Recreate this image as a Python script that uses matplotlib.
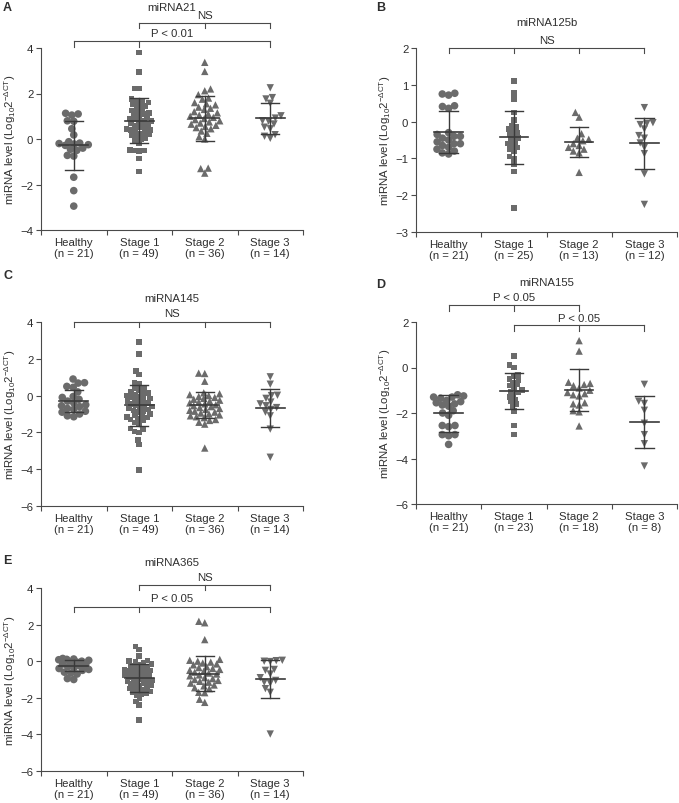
import numpy as np
import matplotlib
matplotlib.use("Agg")
import matplotlib.pyplot as plt
from matplotlib import transforms

# ── Data ─────────────────────────────────────────────────────────────────────
groups = ["Healthy", "Stage 1", "Stage 2", "Stage 3"]

# A. miRNA21
mir21_n = [21, 49, 36, 14]
mir21_healthy = [1.13, 1.05, 1.10, 0.80, 0.78, 0.45, 0.18, -0.12, -0.18, -0.20, -0.22,
                 -0.25, -0.28, -0.40, -0.45, -0.50, -0.72, -0.75, -1.68, -2.27, -2.95]
mir21_stage1 = [3.80, 2.95, 2.22, 2.22,
                1.75, 1.70, 1.65, 1.60, 1.55, 1.50, 1.45, 1.40, 1.30, 1.25, 1.20, 1.15, 1.10,
                1.05, 1.00, 0.95, 0.90, 0.85, 0.80, 0.80, 0.75, 0.70, 0.65, 0.60, 0.55, 0.50,
                0.45, 0.40, 0.40, 0.35, 0.30, 0.25, 0.20, 0.15, 0.10, 0.05, 0.00, -0.10, -0.20,
                -0.50, -0.50, -0.52, -0.48, -0.85, -1.42]
mir21_stage2 = [3.37, 2.97, 2.20, 2.12, 1.95,
                1.80, 1.75, 1.60, 1.55, 1.50, 1.40, 1.35, 1.30, 1.20, 1.15, 1.10, 1.05, 1.00,
                0.95, 0.90, 0.85, 0.80, 0.75, 0.70, 0.65, 0.60, 0.55, 0.50, 0.45, 0.35, 0.25,
                0.10, 0.00, -1.28, -1.50, -1.30]
mir21_stage3 = [2.25, 1.82, 1.76, 1.57, 1.02, 0.92, 0.80, 0.78, 0.66, 0.52, 0.45, 0.19,
                0.12, 0.03]
mir21_mean = [-0.27, 0.79, 0.92, 0.92]
mir21_sd_hi = [0.78, 1.79, 1.91, 1.57]
mir21_sd_lo = [-1.36, -0.19, -0.07, 0.23]

# B. miRNA125b
mir125b_n = [21, 25, 13, 12]
mir125b_healthy = [0.75, 0.72, 0.77, 0.43, 0.36, 0.41, -0.30, -0.35, -0.40, -0.40, -0.45,
                   -0.50, -0.55, -0.60, -0.60, -0.65, -0.70, -0.75, -0.80, -0.85, -0.88]
mir125b_stage1 = [1.10, 0.78, 0.62, 0.25, 0.05, -0.10, -0.15, -0.20, -0.25, -0.30, -0.35,
                  -0.40, -0.45, -0.50, -0.55, -0.60, -0.65, -0.70, -0.75, -0.80, -0.95,
                  -1.00, -1.15, -1.35, -2.35]
mir125b_stage2 = [0.25, 0.12, -0.33, -0.45, -0.48, -0.52, -0.60, -0.65, -0.70, -0.75,
                  -0.80, -0.85, -1.38]
mir125b_stage3 = [0.38, -0.03, -0.08, -0.05, -0.20, -0.38, -0.45, -0.58, -0.70, -0.87,
                  -1.42, -2.25]
mir125b_mean = [-0.28, -0.42, -0.55, -0.59]
mir125b_sd_hi = [0.29, 0.29, -0.14, 0.11]
mir125b_sd_lo = [-0.86, -1.14, -0.96, -1.29]

# C. miRNA145
mir145_n = [21, 49, 36, 14]
mir145_healthy = [0.90, 0.70, 0.68, 0.50, 0.45, 0.20, -0.05, -0.10, -0.20, -0.30, -0.40,
                  -0.50, -0.55, -0.60, -0.70, -0.75, -0.85, -0.90, -1.00, -1.10, -1.15]
mir145_stage1 = [2.90, 2.25, 1.35, 1.15, 0.70, 0.62,
                 0.40, 0.35, 0.30, 0.20, 0.15, 0.10, 0.05, 0.00, -0.05, -0.10, -0.15, -0.20,
                 -0.25, -0.30, -0.35, -0.40, -0.45, -0.50, -0.55, -0.60, -0.65, -0.70, -0.75,
                 -0.80, -0.85, -0.90, -1.00, -1.05, -1.10, -1.15, -1.20, -1.25, -1.30, -1.35,
                 -1.45, -1.50,
                 -1.80, -1.85, -2.00, -1.95, -2.40, -2.65, -4.05]
mir145_stage2 = [1.22, 1.20, 0.78,
                 0.15, 0.10, 0.05, 0.00, -0.05, -0.10, -0.15, -0.20, -0.25, -0.30, -0.35,
                 -0.40, -0.45, -0.50, -0.55, -0.60, -0.65, -0.70, -0.75, -0.80, -0.85, -0.90,
                 -0.95, -1.00, -1.05, -1.10, -1.15, -1.20, -1.30, -1.35, -1.45, -1.55,
                 -2.85]
mir145_stage3 = [1.02, 0.62, 0.02, 0.00, -0.15, -0.35, -0.45, -0.55, -0.65, -0.75, -0.90,
                 -1.10, -1.82, -3.35]
mir145_mean = [-0.27, -0.51, -0.51, -0.67]
mir145_sd_hi = [0.31, 0.60, 0.20, 0.36]
mir145_sd_lo = [-0.87, -1.67, -1.22, -1.73]

# D. miRNA155
mir155_n = [21, 23, 18, 8]
mir155_healthy = [-1.20, -1.25, -1.30, -1.30, -1.35, -1.45, -1.50, -1.55, -1.60, -1.65,
                  -1.70, -1.90, -2.00, -2.10, -2.55, -2.60, -2.55, -2.95, -3.00, -2.95, -3.38]
mir155_stage1 = [0.50, 0.10, 0.00, -0.30, -0.40, -0.50, -0.55, -0.65, -0.75, -0.80, -0.90,
                 -1.00, -1.05, -1.10, -1.20, -1.30, -1.40, -1.50, -1.60, -1.70, -1.90,
                 -2.55, -2.95]
mir155_stage2 = [1.18, 0.72, -0.65, -0.70, -0.75, -0.80, -0.90, -1.00, -1.10, -1.15, -1.20,
                 -1.25, -1.55, -1.60, -1.65, -1.90, -1.95, -2.57]
mir155_stage3 = [-0.74, -1.58, -1.48, -1.88, -2.45, -2.95, -3.35, -4.33]
mir155_mean = [-2.00, -1.03, -0.99, -2.41]
mir155_sd_hi = [-1.19, -0.24, -0.07, -1.25]
mir155_sd_lo = [-2.83, -1.81, -1.93, -3.54]

# E. miRNA365
mir365_n = [21, 49, 36, 14]
mir365_healthy = [0.15, 0.12, 0.10, 0.08, 0.05, 0.00, -0.05, -0.10, -0.15, -0.20, -0.25,
                  -0.30, -0.35, -0.40, -0.45, -0.50, -0.60, -0.65, -0.70, -0.95, -1.00]
mir365_stage1 = [0.80, 0.65, 0.28,
                 0.05, 0.00, -0.05, -0.10, -0.15, -0.20, -0.25, -0.30, -0.35, -0.40, -0.45,
                 -0.50, -0.50, -0.55, -0.60, -0.65, -0.70, -0.75, -0.80, -0.80, -0.85, -0.90,
                 -0.95, -1.00, -1.05, -1.10, -1.10, -1.15, -1.20, -1.25, -1.30, -1.35, -1.40,
                 -1.45, -1.50, -1.55, -1.60, -1.65, -1.70, -1.75, -1.80, -1.85,
                 -2.05, -2.20, -2.38, -3.20]
mir365_stage2 = [2.18, 2.10, 1.18,
                 0.10, 0.05, 0.00, -0.05, -0.10, -0.15, -0.20, -0.30, -0.35, -0.40, -0.45,
                 -0.50, -0.55, -0.60, -0.65, -0.70, -0.75, -0.80, -0.90, -0.95, -1.00, -1.05,
                 -1.10, -1.15, -1.20, -1.30, -1.35, -1.45, -1.50,
                 -1.70, -1.72, -2.08, -2.25]
mir365_stage3 = [0.05, 0.03, 0.00, -0.02, -0.45, -0.50, -0.70, -0.90, -1.05, -1.15, -1.20,
                 -1.50, -1.70, -3.98]
mir365_mean = [-0.26, -0.93, -0.69, -0.99]
mir365_sd_hi = [0.04, -0.18, 0.26, 0.04]
mir365_sd_lo = [-0.56, -1.66, -1.64, -2.00]

# ── Style ─────────────────────────────────────────────────────────────────────
DOT = "#6b6b6b"
LINE = "#3a3a3a"
AXC = "#4a4a4a"
TXT = "#2e2e2e"
FS = 8.2

plt.rcParams.update({
    "font.family": "Liberation Sans",
    "font.size": FS,
    "mathtext.fontset": "custom",
    "mathtext.rm": "Liberation Sans",
    "mathtext.it": "Liberation Sans:italic",
    "axes.unicode_minus": True,
})

MARKERS = ["o", "s", "^", "v"]
SIZES = [30, 16, 28, 28]
DIAM = [7.0, 5.2, 6.6, 6.6]   # px, used for swarm spacing
CAP = 15.0                    # px, max half-width of a swarm (points overlap beyond)

W, H = 679, 804
fig = plt.figure(figsize=(W / 100, H / 100), dpi=100)


def px_axes(l, t, r, b):
    return fig.add_axes([l / W, 1 - b / H, (r - l) / W, (b - t) / H])


def swarm(ypx, d, cap):
    # beeswarm limited to +-cap px; when full, take the least crowded slot
    order = np.argsort(ypx)
    xs = np.zeros(len(ypx))
    placed = []
    grid = np.linspace(-cap, cap, 31)
    for i in order:
        y = ypx[i]
        cands = [0.0]
        for px, py in placed:
            dy = abs(py - y)
            if dy < d:
                dx = np.sqrt(d * d - dy * dy)
                cands += [px - dx, px + dx]
        cands = [c for c in cands if abs(c) <= cap]
        cands.sort(key=abs)
        found = False
        for c in cands:
            if all((c - px) ** 2 + (y - py) ** 2 >= d * d - 1e-6 for px, py in placed):
                xs[i] = c
                found = True
                break
        if not found:
            P = np.array(placed)
            dmin = [np.min((g - P[:, 0]) ** 2 + (y - P[:, 1]) ** 2) for g in grid]
            xs[i] = grid[int(np.argmax(dmin))]
        placed.append((xs[i], y))
    return xs


def blend(ax):
    return transforms.blended_transform_factory(ax.transData, ax.transAxes)


def panel(ax, data, n, mean, hi, lo, ylim, yticks, title, title_y, label, label_xy):
    ax.set_xlim(-0.5, 3.5)
    ax.set_ylim(*ylim)
    for s in ["top", "right"]:
        ax.spines[s].set_visible(False)
    for s in ["left", "bottom"]:
        ax.spines[s].set_color(AXC)
        ax.spines[s].set_linewidth(0.8)
    ax.set_yticks(yticks)
    ax.set_yticklabels([f"{t:g}".replace("-", "\u2212") for t in yticks])
    ax.set_xticks([-0.5, 0.5, 1.5, 2.5, 3.5])
    ax.set_xticklabels([])
    ax.set_xticks(range(4), minor=True)
    ax.set_xticklabels([f"{g}\n(n = {k})" for g, k in zip(groups, n)], minor=True)
    ax.tick_params(axis="both", which="major", direction="out", length=3.5, width=0.8,
                   color=AXC, labelcolor=TXT, labelsize=FS, pad=2)
    ax.tick_params(axis="x", which="minor", length=0, labelcolor=TXT, labelsize=FS, pad=5)
    for lab in ax.get_xticklabels(minor=True):
        lab.set_linespacing(1.1)
    ax.set_ylabel(r"miRNA level (Log$_{10}$2$^{-\Delta\mathrm{CT}}$)", color=TXT,
                  fontsize=FS, labelpad=2)

    for i, vals in enumerate(data):
        vals = np.asarray(vals, dtype=float)
        pix = ax.transData.transform(np.column_stack([np.full(len(vals), i), vals]))
        pix[:, 0] += swarm(pix[:, 1], DIAM[i] * 0.92, CAP)
        xy = ax.transData.inverted().transform(pix)
        ax.scatter(xy[:, 0], vals, marker=MARKERS[i], s=SIZES[i], color=DOT,
                   edgecolors="none", zorder=2, clip_on=False)
        ax.plot([i - 0.22, i + 0.22], [mean[i], mean[i]], color=LINE, lw=1.2, zorder=3)
        ax.plot([i, i], [lo[i], hi[i]], color=LINE, lw=1.0, zorder=3)
        for v in (lo[i], hi[i]):
            ax.plot([i - 0.14, i + 0.14], [v, v], color=LINE, lw=1.0, zorder=3)

    ax.text(1.5, title_y, title, transform=blend(ax), ha="center", va="center",
            color=TXT, fontsize=FS)
    fig.text(label_xy[0] / W, 1 - label_xy[1] / H, label, fontsize=9,
             fontweight="bold", color=TXT, ha="left", va="center")


def bracket(ax, x0, x1, ticks, yb, ytick, text, xt, yt):
    tr = blend(ax)
    ax.plot([x0, x1], [yb, yb], color=AXC, lw=0.8, transform=tr, clip_on=False)
    for t in ticks:
        ax.plot([t, t], [yb, ytick], color=AXC, lw=0.8, transform=tr, clip_on=False)
    ax.text(xt, yt, text, transform=tr, ha="center", va="center", color=TXT, fontsize=FS)


# ── Panels ────────────────────────────────────────────────────────────────────
axA = px_axes(41, 49, 303, 231)
panel(axA, [mir21_healthy, mir21_stage1, mir21_stage2, mir21_stage3], mir21_n,
      mir21_mean, mir21_sd_hi, mir21_sd_lo, (-4, 4), [-4, -2, 0, 2, 4],
      "miRNA21", 1.225, "A", (3, 8))
bracket(axA, 1, 3, [1, 2, 3], 1.137, 1.108, "NS", 2, 1.18)
bracket(axA, 0, 3, [0, 1, 3], 1.037, 1.005, "P < 0.01", 1.5, 1.083)

axB = px_axes(416, 49, 677, 233)
panel(axB, [mir125b_healthy, mir125b_stage1, mir125b_stage2, mir125b_stage3], mir125b_n,
      mir125b_mean, mir125b_sd_hi, mir125b_sd_lo, (-3, 2), [-3, -2, -1, 0, 1, 2],
      "miRNA125b", 1.143, "B", (376, 8))
bracket(axB, 0, 3, [0, 1, 2, 3], 1.0, 0.972, "NS", 1.5, 1.045)

axC = px_axes(41, 323, 303, 507)
panel(axC, [mir145_healthy, mir145_stage1, mir145_stage2, mir145_stage3], mir145_n,
      mir145_mean, mir145_sd_hi, mir145_sd_lo, (-6, 4), [-6, -4, -2, 0, 2, 4],
      "miRNA145", 1.129, "C", (3, 276))
bracket(axC, 0, 3, [0, 1, 2, 3], 1.0, 0.972, "NS", 1.5, 1.047)

axD = px_axes(416, 323, 677, 505)
panel(axD, [mir155_healthy, mir155_stage1, mir155_stage2, mir155_stage3], mir155_n,
      mir155_mean, mir155_sd_hi, mir155_sd_lo, (-6, 2), [-6, -4, -2, 0, 2],
      "miRNA155", 1.218, "D", (376, 285))
bracket(axD, 0, 2, [0, 1, 2], 1.093, 1.062, "P < 0.05", 1, 1.136)
bracket(axD, 1, 3, [1, 2, 3], 0.982, 0.951, "P < 0.05", 2, 1.02)

axE = px_axes(41, 589, 303, 772)
panel(axE, [mir365_healthy, mir365_stage1, mir365_stage2, mir365_stage3], mir365_n,
      mir365_mean, mir365_sd_hi, mir365_sd_lo, (-6, 4), [-6, -4, -2, 0, 2, 4],
      "miRNA365", 1.142, "E", (3, 561))
bracket(axE, 1, 3, [1, 2, 3], 1.018, 0.987, "NS", 2, 1.06)
bracket(axE, 0, 3, [0, 1, 3], 0.896, 0.869, "P < 0.05", 1.5, 0.945)

fig.savefig("out.png", dpi=100, facecolor="white")
plt.close(fig)
